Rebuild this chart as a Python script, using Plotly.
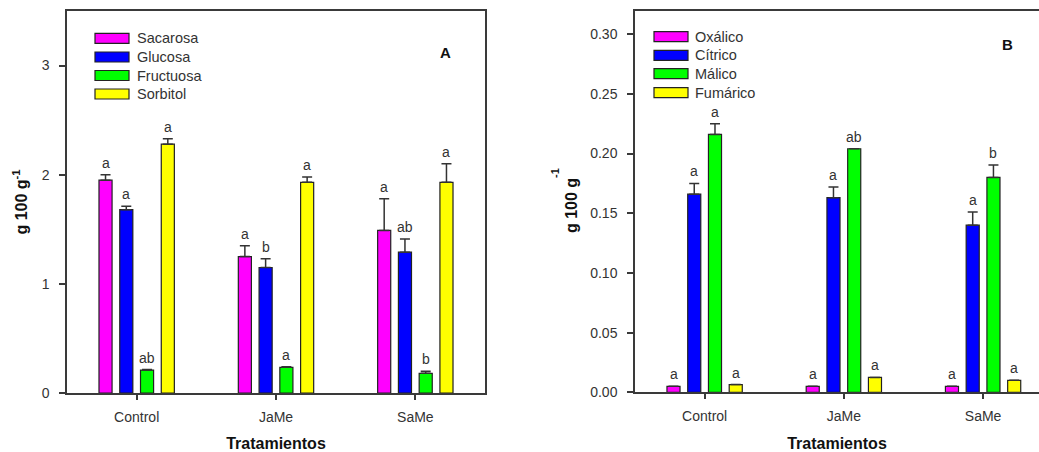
import plotly.graph_objects as go

# ---------------- data ----------------
treatments = ["Control", "JaMe", "SaMe"]

sugar_names = ["Sacarosa", "Glucosa", "Fructuosa", "Sorbitol"]
sugar_vals = [
    [1.95, 1.25, 1.49],   # Sacarosa
    [1.68, 1.15, 1.29],   # Glucosa
    [0.21, 0.235, 0.18],  # Fructuosa
    [2.28, 1.93, 1.93],   # Sorbitol
]
sugar_err = [
    [0.05, 0.10, 0.29],
    [0.03, 0.08, 0.12],
    [0.005, 0.005, 0.02],
    [0.05, 0.05, 0.17],
]
sugar_letters = [
    ["a", "a", "a"],
    ["a", "b", "ab"],
    ["ab", "a", "b"],
    ["a", "a", "a"],
]

acid_names = ["Oxálico", "Cítrico", "Málico", "Fumárico"]
acid_vals = [
    [0.005, 0.005, 0.005],
    [0.166, 0.163, 0.140],
    [0.216, 0.204, 0.180],
    [0.0065, 0.0125, 0.010],
]
acid_err = [
    [0.0, 0.0, 0.0],
    [0.009, 0.009, 0.011],
    [0.009, 0.0, 0.0105],
    [0.0, 0.0, 0.0],
]
acid_letters = [
    ["a", "a", "a"],
    ["a", "a", "a"],
    ["a", "ab", "b"],
    ["a", "a", "a"],
]

left_yticks = [0, 1, 2, 3]
right_yticks = [0.00, 0.05, 0.10, 0.15, 0.20, 0.25, 0.30]

colors = ["#FF00FF", "#0000FF", "#00FF00", "#FFFF00"]

# ---------------- layout helpers ----------------
W, H = 1039, 452
FONT = "Liberation Sans, Arial, sans-serif"
AX = "#3a3a3a"
TXT = "#333333"
BARGAP = 0.404


def px(x):
    return x / W


def py(y):
    return 1 - y / H


fig = go.Figure()


def add_panel(names, vals, errs, letters, xa, ya):
    nser = len(names)
    slot = (1 - BARGAP) / nser
    for k, name in enumerate(names):
        fig.add_trace(go.Bar(
            x=treatments, y=vals[k], name=name,
            marker=dict(color=colors[k], line=dict(color="#222222", width=1.2)),
            error_y=dict(type="data", array=errs[k], arrayminus=[0] * len(errs[k]),
                         symmetric=False, color="#333333", thickness=1.5, width=5),
            xaxis=xa, yaxis=ya, showlegend=False,
        ))
        for i in range(len(treatments)):
            fig.add_annotation(
                x=i + (k - (nser - 1) / 2) * slot, y=vals[k][i] + errs[k][i],
                xref=xa, yref=ya, text=letters[k][i], showarrow=False,
                yanchor="bottom", yshift=2,
                font=dict(family=FONT, size=14, color=TXT),
            )


add_panel(sugar_names, sugar_vals, sugar_err, sugar_letters, "x", "y")
add_panel(acid_names, acid_vals, acid_err, acid_letters, "x2", "y2")

axis_common = dict(showline=True, linecolor=AX, linewidth=1.5, ticks="outside",
                   tickcolor=AX, tickwidth=1.5, showgrid=False, zeroline=False,
                   automargin=False,
                   tickfont=dict(family=FONT, size=14, color=TXT))
x_common = dict(ticklen=5, ticklabelstandoff=5, **axis_common)
y_common = dict(ticklen=6, ticklabelstandoff=7, **axis_common)

title_font = dict(family=FONT, size=16, color="#111111")
xtitle = dict(text="<b>Tratamientos</b>", font=title_font, standoff=18)

fig.update_layout(
    template="none",
    width=W, height=H, margin=dict(l=0, r=0, t=0, b=0, pad=0), autosize=False,
    paper_bgcolor="white", plot_bgcolor="white",
    barmode="group", bargap=BARGAP, bargroupgap=0.37,
    showlegend=False,
    xaxis=dict(domain=[px(67), px(485)], range=[-0.5, 2.5], anchor="y",
               mirror=True, title=xtitle, **x_common),
    yaxis=dict(domain=[py(393), py(11)], range=[0, 3.5], anchor="x",
               tickvals=left_yticks, mirror=True,
               title=dict(text="<b>g 100 g<sup>-1</sup></b>", font=title_font, standoff=10),
               **y_common),
    xaxis2=dict(domain=[px(635), 1.0], range=[-0.5, 2.5 - 13.7 / 139.3], anchor="y2",
                mirror=True, title=xtitle, **x_common),
    yaxis2=dict(domain=[py(392.3), py(11)], range=[0, 0.3194], anchor="x2",
                tickvals=right_yticks, tickformat=".2f", **y_common),
)

# right y title (superscript set apart, as in the original)
fig.add_annotation(x=px(572), y=py(206), xref="paper", yref="paper",
                   text="<b>g 100 g</b>", textangle=-90,
                   showarrow=False, font=title_font)
fig.add_annotation(x=px(555), y=py(173), xref="paper", yref="paper",
                   text="<b>-1</b>", textangle=-90,
                   showarrow=False, font=dict(family=FONT, size=11, color="#111111"))

# Panel labels
fig.add_annotation(x=px(445), y=py(42), xref="paper", yref="paper", text="<b>A</b>",
                   showarrow=False, font=dict(family=FONT, size=15, color="#111111"))
fig.add_annotation(x=px(1015), y=py(34), xref="paper", yref="paper", text="<b>B</b>",
                   showarrow=False, font=dict(family=FONT, size=15, color="#111111"))


# Custom legends (long rectangular swatches)
def add_legend(names, x0, rows, text_x):
    for k, name in enumerate(names):
        yc = rows[k]
        fig.add_shape(type="rect", xref="paper", yref="paper",
                      x0=px(x0), x1=px(x0 + 34), y0=py(yc + 5), y1=py(yc - 5),
                      fillcolor=colors[k], line=dict(color="#222222", width=1.2))
        fig.add_annotation(x=px(text_x), y=py(yc), xref="paper", yref="paper", text=name,
                           showarrow=False, xanchor="left", yanchor="middle",
                           font=dict(family=FONT, size=14.5, color=TXT))


add_legend(sugar_names, 95, [38.3, 57, 75.5, 94], 135)
add_legend(acid_names, 654, [36.7, 55.3, 73.7, 92.7], 693)

fig.write_html("out.html")
